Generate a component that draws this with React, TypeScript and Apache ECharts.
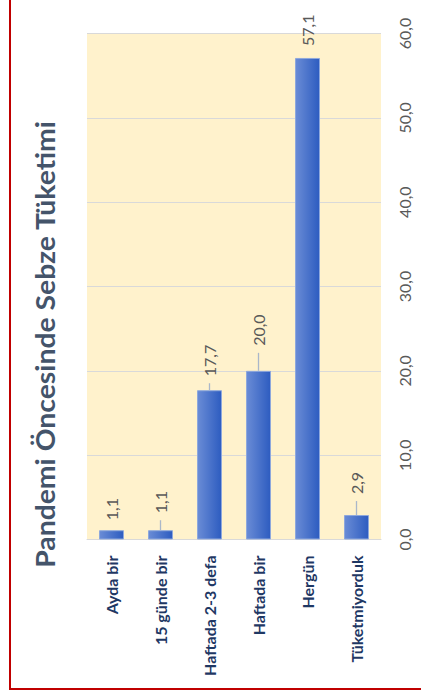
import React, { useEffect, useRef } from "react";
import * as echarts from "echarts";

const categories = ["Ayda bir", "15 günde bir", "Haftada 2-3 defa", "Haftada bir", "Hergün", "Tüketmiyorduk"];
const values = [1.1, 1.1, 17.7, 20.0, 57.1, 2.9];
const axisMin = 0;
const axisMax = 60;
const axisStep = 10;
const titleText = "Pandemi Öncesinde Sebze Tüketimi";
// label distance above each bar (pixels) - style, not data
const labelGaps = [10, 17, 14, 25, 12, 21];

const fmt = (v: number) => v.toFixed(1).replace(".", ",");

export default function App() {
  const ref = useRef<HTMLDivElement>(null);
  useEffect(() => {
    if (!ref.current) return;
    const chart = echarts.init(ref.current, null, { renderer: "svg" });
    chart.setOption({
      animation: false,
      backgroundColor: "#ffffff",
      grid: {
        left: 87,
        right: 40,
        top: 33.5,
        bottom: 156.5,
        show: true,
        backgroundColor: "#FFF2CC",
        borderWidth: 0,
      },
      xAxis: {
        type: "category",
        data: categories,
        axisLine: { show: true, lineStyle: { color: "#d9d9d9", width: 1 } },
        axisTick: { show: false },
        axisLabel: {
          rotate: 90,
          margin: 16,
          color: "#1f3864",
          fontFamily: "Lato",
          fontWeight: "bold",
          fontSize: 16,
          interval: 0,
        },
      },
      yAxis: {
        type: "value",
        position: "right",
        min: axisMin,
        max: axisMax,
        interval: axisStep,
        axisLine: { show: false },
        axisTick: { show: false },
        splitLine: { lineStyle: { color: "#d9d9d9", width: 1 } },
        axisLabel: {
          rotate: 90,
          margin: 23,
          align: "center",
          verticalAlign: "middle",
          color: "#595959",
          fontFamily: "Lato",
          fontSize: 16,
          formatter: (v: number) => fmt(v),
        },
      },
      series: [
        {
          type: "bar",
          data: values,
          barWidth: "51%",
          itemStyle: {
            color: new echarts.graphic.LinearGradient(0, 0, 1, 0, [
              { offset: 0, color: "#6a8cd6" },
              { offset: 1, color: "#2d5cc0" },
            ]),
            borderColor: "#8ea8dc",
            borderWidth: 1,
          },
          silent: true,
        },
        {
          type: "custom",
          data: values.map((v, i) => [i, v]),
          silent: true,
          z: 5,
          renderItem: (params: any, api: any) => {
            const i = params.dataIndex;
            const v = api.value(1);
            const p = api.coord([api.value(0), v]);
            const gap = labelGaps[i];
            const children: any[] = [];
            if (gap >= 14) {
              children.push({
                type: "line",
                shape: { x1: p[0], y1: p[1], x2: p[0], y2: p[1] - gap + 7 },
                style: { stroke: "#aab7ca", lineWidth: 1.3 },
              });
            }
            children.push({
              type: "text",
              x: p[0],
              y: p[1] - gap,
              rotation: Math.PI / 2,
              style: {
                text: fmt(v),
                align: "left",
                verticalAlign: "middle",
                fill: "#595959",
                font: "16px Lato",
              },
            });
            return { type: "group", children };
          },
        },
      ],
      graphic: [
        {
          type: "rect",
          shape: { x: 10, y: -20, width: 440, height: 709 },
          style: { fill: "none", stroke: "#c00000", lineWidth: 2 },
          silent: true,
        },
        {
          type: "text",
          x: 45,
          y: 344.5,
          rotation: Math.PI / 2,
          scaleX: 1.09,
          style: {
            text: titleText,
            align: "center",
            verticalAlign: "middle",
            fill: "#44546a",
            font: "bold 26px Lato",
          },
          silent: true,
        },
      ],
    });
    return () => chart.dispose();
  }, []);
  return (
    <div
      ref={ref}
      style={{ position: "fixed", left: 0, top: 0, width: 421, height: 696 }}
    />
  );
}
